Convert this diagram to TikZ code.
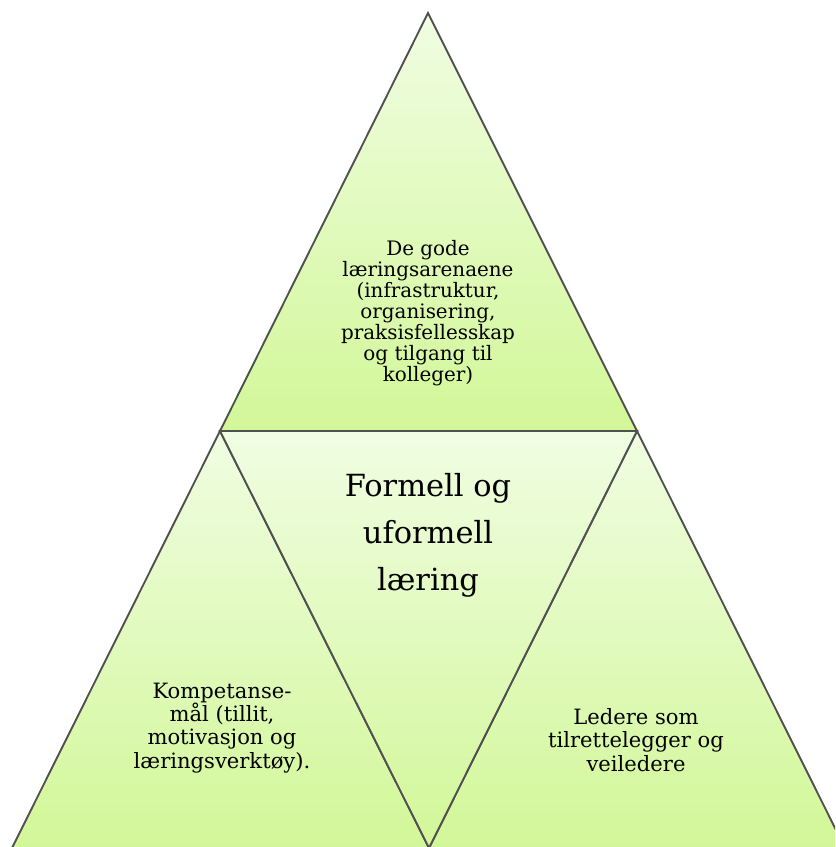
\documentclass[tikz,border=0pt]{standalone}
\usepackage{fontspec}
\setmainfont{DejaVu Serif}
\definecolor{paleleaf}{RGB}{240,253,226}
\definecolor{leaf}{RGB}{210,247,152}
\definecolor{edgegray}{RGB}{80,80,80}

\begin{document}
\begin{tikzpicture}[x=0.03cm,y=-0.03cm]
   \tikzset{wedge/.style={top color=paleleaf,bottom color=leaf,draw=edgegray,line width=1.6pt,line join=miter}}
   \useasboundingbox (0,0) rectangle (835,847);
   \clip (0,0) rectangle (835,847);
   % corners of the four triangles
   \coordinate (apex) at (428,13);
   \coordinate (tl) at (220,431);
   \coordinate (tr) at (637,431);
   \coordinate (bl) at (12,848);
   \coordinate (bm) at (429,848);
   \coordinate (br) at (845,848);
   \path[wedge] (apex) -- (tl) -- (tr) -- cycle;
   \path[wedge] (tl) -- (bl) -- (bm) -- cycle;
   \path[wedge] (tr) -- (bm) -- (br) -- cycle;
   \path[wedge] (tl) -- (tr) -- (bm) -- cycle;
   \begin{scope}[every node/.style={align=center,font=\fontsize{18}{19.8}\selectfont}]
    \node[font=\fontsize{17}{17.9}\selectfont] (arenas) at (428,313) {De gode\\læringsarenaene\\(infrastruktur,\\organisering,\\praksisfellesskap\\og tilgang til\\kolleger)};
    \node (goals) at (222,728) {Kompetanse-\\mål (tillit,\\motivasjon og\\læringsverktøy).};
    \node (leaders) at (636,740) {Ledere som\\tilrettelegger og\\veiledere};
    \node[font=\fontsize{26}{40}\selectfont] (core) at (428,535) {Formell og\\uformell\\læring};
   \end{scope}
\end{tikzpicture}
\end{document}
